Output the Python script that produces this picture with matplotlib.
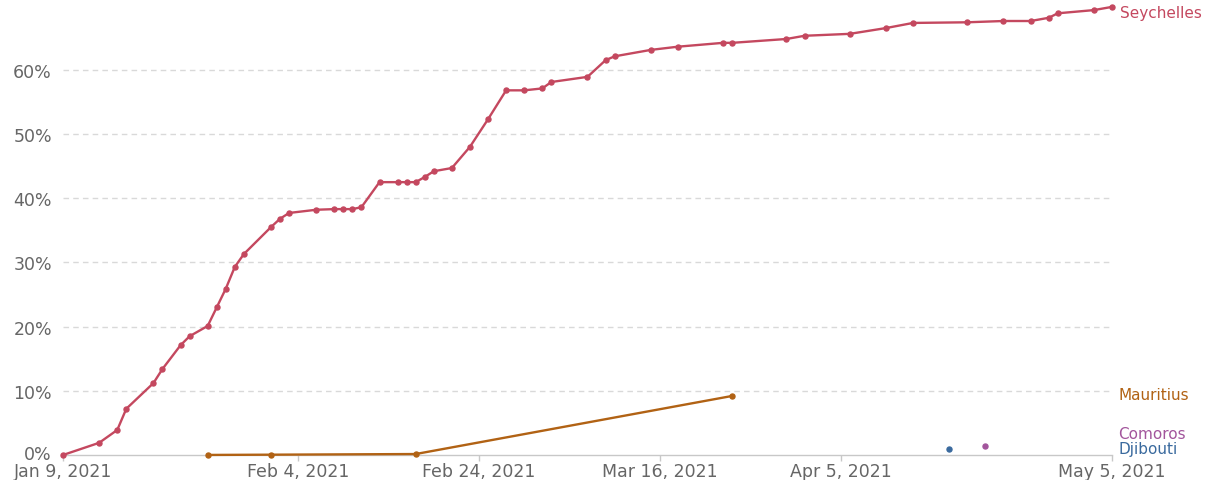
import matplotlib.pyplot as plt
import matplotlib.dates as mdates
import matplotlib.transforms as mtransforms
import numpy as np

plt.rcParams['font.family'] = ['DejaVu Sans']

# Seychelles share of people vaccinated (%)
seychelles_dates = [
    "2021-01-09", "2021-01-13", "2021-01-15", "2021-01-16", "2021-01-19",
    "2021-01-20", "2021-01-22", "2021-01-23", "2021-01-25", "2021-01-26",
    "2021-01-27", "2021-01-28", "2021-01-29", "2021-02-01", "2021-02-02",
    "2021-02-03", "2021-02-06", "2021-02-08", "2021-02-09", "2021-02-10",
    "2021-02-11", "2021-02-13", "2021-02-15", "2021-02-16", "2021-02-17",
    "2021-02-18", "2021-02-19", "2021-02-21", "2021-02-23", "2021-02-25",
    "2021-02-27", "2021-03-01", "2021-03-03", "2021-03-04", "2021-03-08",
    "2021-03-10", "2021-03-11", "2021-03-15", "2021-03-18", "2021-03-23",
    "2021-03-24", "2021-03-30", "2021-04-01", "2021-04-06", "2021-04-10",
    "2021-04-13", "2021-04-19", "2021-04-23", "2021-04-26", "2021-04-28",
    "2021-04-29", "2021-05-03", "2021-05-05",
]
seychelles_values = [
    0.0, 1.9, 3.9, 7.2, 11.2,
    13.4, 17.1, 18.5, 20.1, 23.0,
    25.9, 29.3, 31.3, 35.5, 36.8,
    37.7, 38.2, 38.3, 38.3, 38.3,
    38.6, 42.5, 42.5, 42.5, 42.5,
    43.3, 44.2, 44.7, 48.0, 52.3,
    56.8, 56.8, 57.1, 58.1, 58.9,
    61.5, 62.1, 63.1, 63.6, 64.2,
    64.2, 64.8, 65.3, 65.6, 66.5,
    67.3, 67.4, 67.6, 67.6, 68.1,
    68.8, 69.3, 69.8,
]

mauritius_dates = ["2021-01-25", "2021-02-01", "2021-02-17", "2021-03-24"]
mauritius_values = [0.01, 0.05, 0.15, 9.2]

djibouti_dates = ["2021-04-17"]
djibouti_values = [0.93]

comoros_dates = ["2021-04-21"]
comoros_values = [1.4]

y_ticks = [0, 10, 20, 30, 40, 50, 60]
x_ticks = ["2021-01-09", "2021-02-04", "2021-02-24", "2021-03-16", "2021-04-05", "2021-05-05"]

series = [
    ("Seychelles", seychelles_dates, seychelles_values, "#C4485F", 1),
    ("Mauritius", mauritius_dates, mauritius_values, "#B16214", 396),
    ("Comoros", comoros_dates, comoros_values, "#A2559C", 435),
    ("Djibouti", djibouti_dates, djibouti_values, "#3A6A9E", 450),
]

fig = plt.figure(figsize=(12.12, 4.81), dpi=100)
ax = fig.add_axes([63 / 1212, 25 / 481, (1112 - 63) / 1212, (456 - 6.6) / 481])

def to_dt(lst):
    return np.array(lst, dtype="datetime64[D]")

for name, d, v, col, _ in series:
    ax.plot(to_dt(d), v, color=col, lw=1.7, marker="o", ms=3.6, clip_on=False, zorder=3)

# series labels at the right edge
for name, d, v, col, ypix in series:
    if name == "Seychelles":
        ax.annotate(name, xy=(to_dt(d)[-1], v[-1]), xytext=(6, -4), textcoords="offset points",
                    color=col, fontsize=11, va="center", ha="left", annotation_clip=False)
    else:
        yval = (456 - ypix) / 6.42
        ax.text(1.006, yval, name, transform=ax.get_yaxis_transform(), color=col,
                fontsize=11, va="center", ha="left")

ax.set_xlim(to_dt(["2021-01-09"])[0], to_dt(["2021-05-05"])[0])
ax.set_ylim(0, 70)

ax.set_yticks(y_ticks)
ax.set_yticklabels([f"{t}%" for t in y_ticks])
ax.set_xticks(to_dt(x_ticks))
ax.xaxis.set_major_formatter(mdates.DateFormatter("%b %-d, %Y"))

for t in y_ticks[1:]:
    ax.axhline(t, color="#d9d9d9", lw=1, ls=(0, (4, 3)), zorder=1)

for s in ["top", "right", "left"]:
    ax.spines[s].set_visible(False)
ax.spines["bottom"].set_color("#c8c8c8")
ax.spines["bottom"].set_linewidth(1)

ax.tick_params(axis="y", length=0, pad=8, labelsize=12.5, labelcolor="#666666")
ax.tick_params(axis="x", length=4, width=1, color="#c8c8c8", pad=1, labelsize=12.5, labelcolor="#666666")

# lift the 0% label a little so it clears the first date label
zero_lbl = ax.get_yticklabels()[0]
zero_lbl.set_transform(zero_lbl.get_transform() + mtransforms.ScaledTranslation(0, 2 / 72, fig.dpi_scale_trans))

fig.savefig("out.png", dpi=100, facecolor="white")
